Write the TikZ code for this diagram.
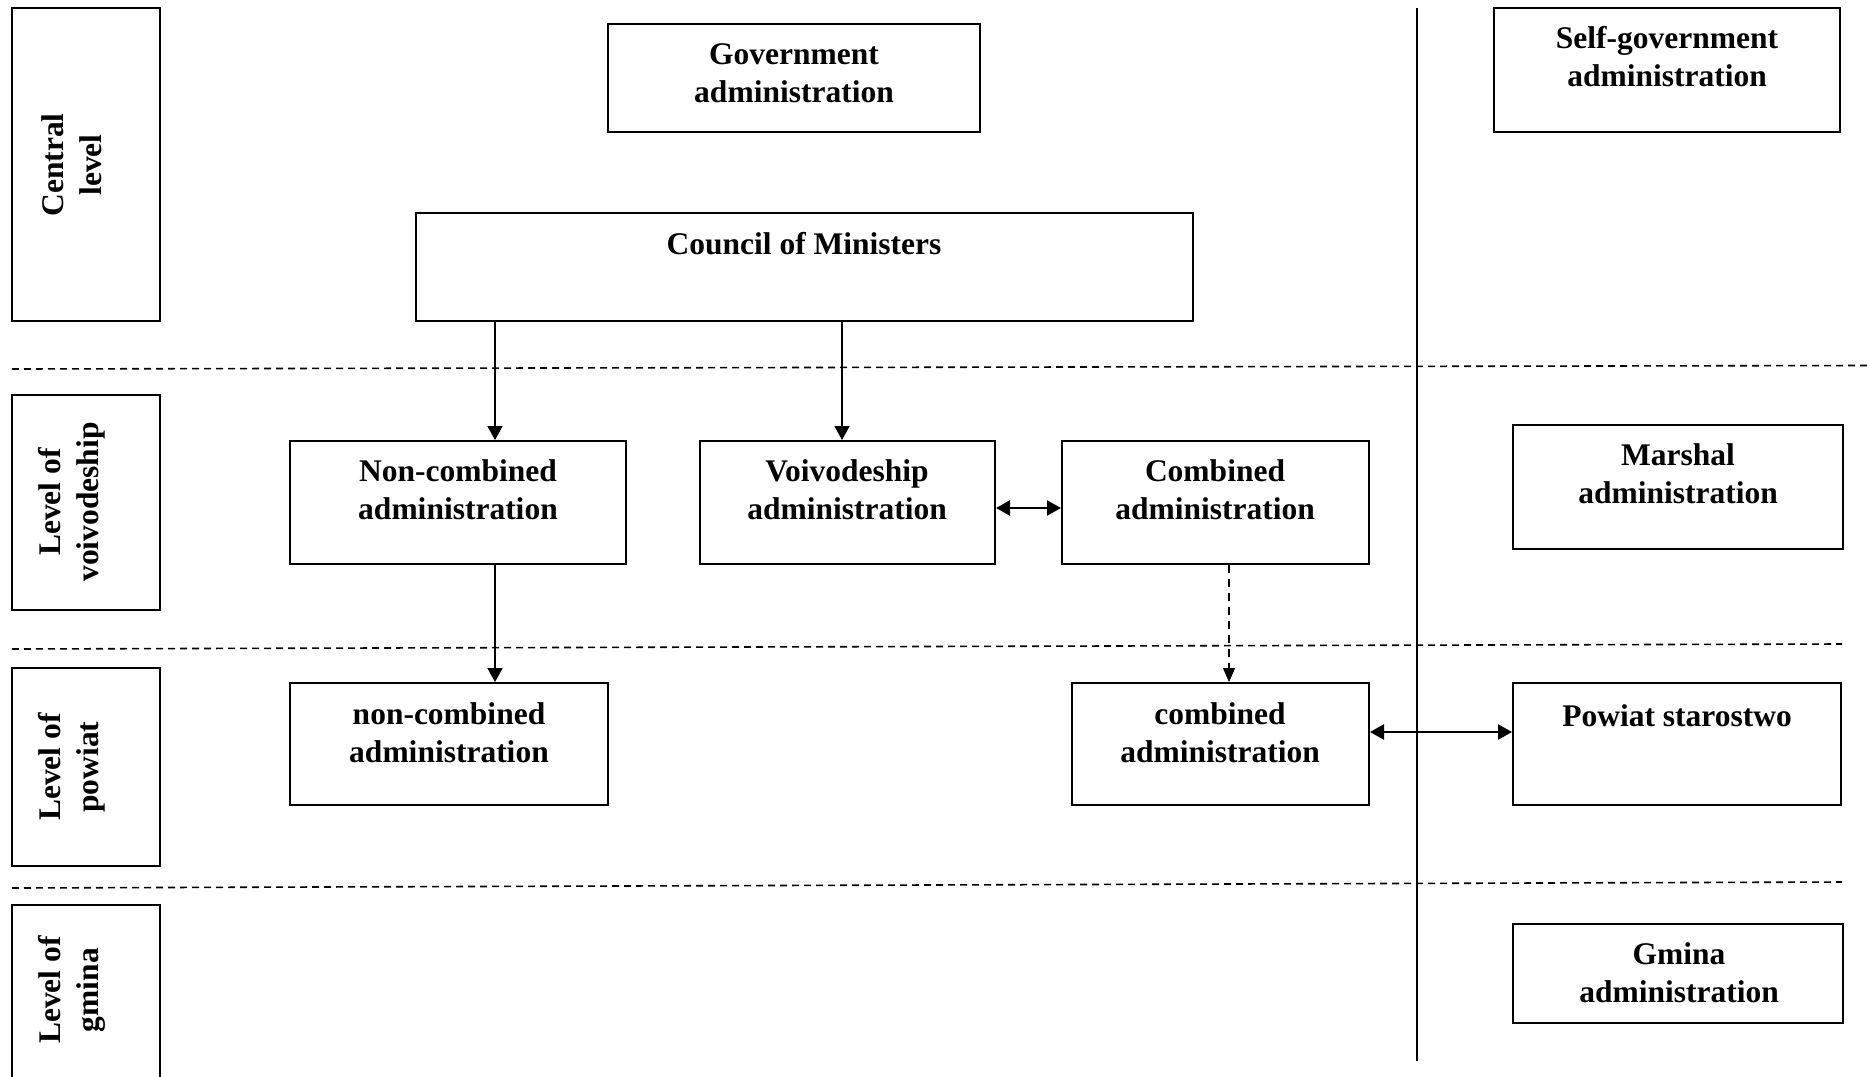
\documentclass[tikz,border=0pt]{standalone}
\usepackage{fontspec}
\setmainfont{Liberation Serif}
\usetikzlibrary{arrows.meta,fit}
\begin{document}
\begin{tikzpicture}[x=0.5pt,y=-0.5pt,
  box/.style={draw,line width=1pt,inner sep=0pt},
  txt/.style={font=\fontsize{15.75}{19}\selectfont\bfseries,align=center,inner sep=0pt},
  side/.style={txt,rotate=90},
  arr/.style={line width=0.85pt,-{Triangle[length=7pt,width=7.5pt]}},
  darr/.style={line width=1.2pt,{Triangle[length=7pt,width=7.5pt]}-{Triangle[length=7pt,width=7.5pt]}},
  sep/.style={line width=0.8pt,dash pattern=on 3.5pt off 2.5pt},
  dconn/.style={line width=0.6pt,dash pattern=on 4pt off 3pt,-{Triangle[length=7pt,width=6pt]}},
]
\useasboundingbox (0,0) rectangle (1867,1076);
\clip (0,0) rectangle (1867,1076);

% level boxes
\node[box,fit={(12,8)(160,321)}] (cent) {};
\node[box,fit={(12,395)(160,610)}] (voi) {};
\node[box,fit={(12,668)(160,866)}] (pow) {};
\node[box,fit={(12,905)(160,1095)}] (gmi) {};
\node[side] (centT) at (72,165) {Central\\level};
\node[side] (voiT) at (72,502) {Level of\\voivodeship};
\node[side] (powT) at (72,767) {Level of\\powiat};
\node[side] (gmiT) at (72,990) {Level of\\gmina};

% separators
\draw[sep] (12,369) -- (1867,365.5);
\draw[sep] (12,649) -- (1842,644);
\draw[sep] (12,888) -- (1842,882);
\draw[line width=0.6pt] (1417,8) -- (1417,1061);

% boxes
\node[box,fit={(608,24)(980,132)}] (gov) {};
\node[txt] (govT) at (794,73) {Government\\administration};
\node[box,fit={(1494,8)(1840,132)}] (self) {};
\node[txt] (selfT) at (1667,57) {Self-government\\administration};
\node[box,fit={(416,213)(1193,321)}] (council) {};
\node[txt] (councilT) at (804,244) {Council of Ministers};

\node[box,fit={(290,441)(626,564)}] (nc) {};
\node[txt] (ncT) at (458,490) {Non-combined\\administration};
\node[box,fit={(700,441)(995,564)}] (voiv) {};
\node[txt] (voivT) at (847,490) {Voivodeship\\administration};
\node[box,fit={(1062,441)(1369,564)}] (comb) {};
\node[txt] (combT) at (1215,490) {Combined\\administration};
\node[box,fit={(1513,425)(1843,549)}] (marsh) {};
\node[txt] (marshT) at (1678,474) {Marshal\\administration};

\node[box,fit={(290,683)(608,805)}] (ncp) {};
\node[txt] (ncpT) at (449,733) {non-combined\\administration};
\node[box,fit={(1072,683)(1369,805)}] (combp) {};
\node[txt] (combpT) at (1220,733) {combined\\administration};
\node[box,fit={(1513,683)(1841,805)}] (star) {};
\node[txt] (starT) at (1677,716) {Powiat starostwo};
\node[box,fit={(1513,924)(1843,1023)}] (gmina) {};
\node[txt] (gminaT) at (1679,973) {Gmina\\administration};

% connectors
\coordinate (xa) at (495,0);
\coordinate (xb) at (842,0);
\coordinate (xc) at (1229,0);
\coordinate (ya) at (0,508);
\coordinate (yb) at (0,732);
\draw[arr] (council.south -| xa) -- (nc.north -| xa);
\draw[arr] (council.south -| xb) -- (voiv.north -| xb);
\draw[arr] (nc.south -| xa) -- (ncp.north -| xa);
\draw[dconn] (comb.south -| xc) -- (combp.north -| xc);
\draw[darr] (voiv.east |- ya) -- (comb.west |- ya);
\draw[darr] (combp.east |- yb) -- (star.west |- yb);
\end{tikzpicture}
\end{document}
